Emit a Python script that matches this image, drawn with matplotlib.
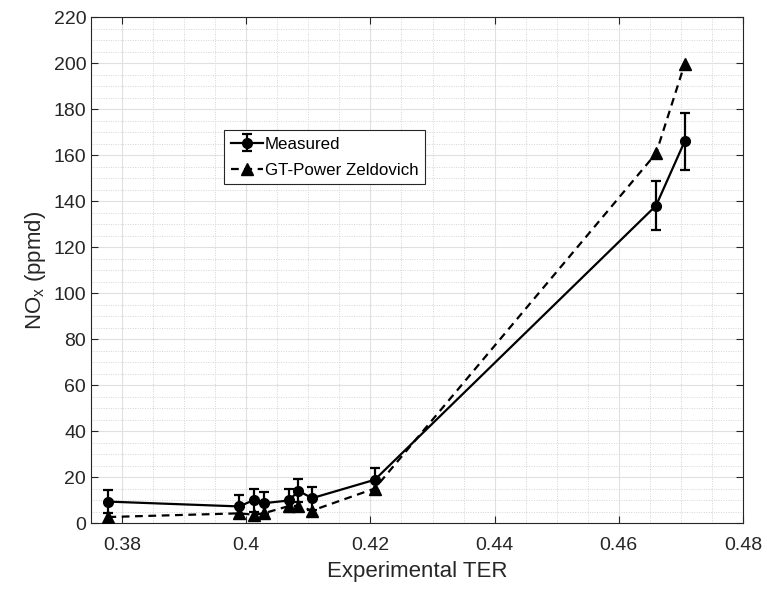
import matplotlib
matplotlib.use("Agg")
import matplotlib.pyplot as plt
from matplotlib.ticker import MultipleLocator

plt.rcParams['font.family'] = ['Liberation Sans', 'DejaVu Sans']
plt.rcParams['mathtext.fontset'] = 'custom'
plt.rcParams['mathtext.rm'] = 'Liberation Sans'

ter = [0.3778, 0.3989, 0.4012, 0.4028, 0.4069, 0.4084, 0.4106, 0.4207, 0.4660, 0.4706]
measured = [9.3, 7.2, 10.0, 8.6, 9.8, 14.0, 10.8, 18.8, 138.0, 165.9]
measured_err = [5.0, 5.0, 5.0, 4.8, 5.2, 5.0, 5.0, 5.0, 10.8, 12.3]
gt_power = [2.6, 4.2, 3.6, 4.2, 7.4, 7.4, 5.4, 15.0, 160.7, 199.5]

xticks = [0.38, 0.40, 0.42, 0.44, 0.46, 0.48]
xticklabels = ['0.38', '0.4', '0.42', '0.44', '0.46', '0.48']
yticks = list(range(0, 221, 20))

fig = plt.figure(figsize=(7.67, 5.90), dpi=100)
ax = fig.add_axes([91/767, 1-523/590, (743-91)/767, (523-17)/590])

tc = '#262626'
h1 = ax.errorbar(ter, measured, yerr=measured_err, color='black', lw=1.6,
                 marker='o', markersize=7, capsize=3.5, elinewidth=1.6, capthick=1.6,
                 label='Measured', zorder=3)
h2, = ax.plot(ter, gt_power, color='black', lw=1.6, ls=(0, (3.5, 2.5)),
              marker='^', markersize=9, label='GT-Power Zeldovich', zorder=3)

ax.set_xlim(0.375, 0.48)
ax.set_ylim(0, 220)
ax.set_xticks(xticks)
ax.set_xticklabels(xticklabels)
ax.set_yticks(yticks)
ax.xaxis.set_minor_locator(MultipleLocator(0.005))
ax.yaxis.set_minor_locator(MultipleLocator(5))

ax.grid(which='major', color='#e0e0e0', lw=0.8, ls='-')
ax.grid(which='minor', color='#d4d4d4', lw=0.7, ls=(0, (1, 1.5)))
ax.set_axisbelow(True)

ax.tick_params(which='major', direction='in', length=5, top=True, right=True,
               labelsize=14, colors=tc, width=0.8)
ax.tick_params(which='minor', length=0, top=True, right=True)
ax.tick_params(axis='x', pad=10)
for s in ax.spines.values():
    s.set_color(tc)
    s.set_linewidth(0.8)

ax.set_xlabel('Experimental TER', fontsize=16, color=tc, labelpad=5)
ax.set_ylabel(r'NO$_\mathregular{x}$ (ppmd)', fontsize=16, color=tc, labelpad=4)

leg = ax.legend(handles=[h1, h2], labels=['Measured', 'GT-Power Zeldovich'],
                loc='upper left', bbox_to_anchor=(0.204, 0.777), fontsize=12.2,
                frameon=True, fancybox=False, edgecolor=tc, framealpha=1,
                handlelength=1.9, handletextpad=0.1, borderpad=0.4,
                labelspacing=0.65, borderaxespad=0)
leg.get_frame().set_linewidth(0.8)

fig.savefig('out.png', dpi=100)
